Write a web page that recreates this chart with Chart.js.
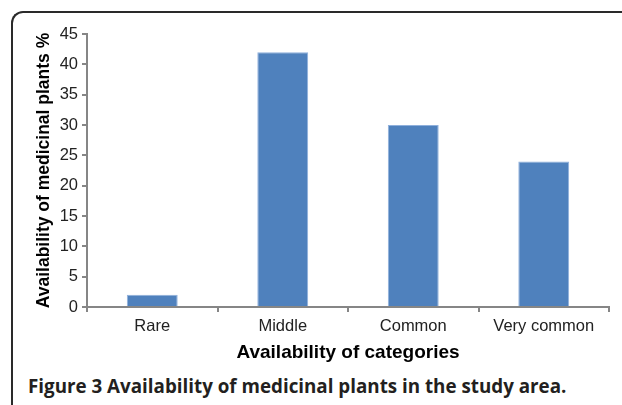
<!DOCTYPE html>
<html>
<head>
<meta charset="utf-8">
<script src="https://cdn.jsdelivr.net/npm/chart.js@4"></script>
<style>
  html, body { margin: 0; padding: 0; background: #fff; overflow: hidden; }
  #wrap { position: relative; width: 622px; height: 405px; }
  #frame {
    position: absolute; left: 11px; top: 11px; width: 640px; height: 420px;
    border-top: 2px solid #2a2a2a; border-left: 2px solid #2a2a2a;
    border-top-left-radius: 12px; box-sizing: border-box;
  }
  #chart { position: absolute; left: 0; top: 0; }
  #caption {
    position: absolute; left: 28px; top: 373px;
    font-family: "Open Sans", sans-serif; font-weight: 700; font-size: 18.8px;
    color: #231f20; white-space: nowrap;
  }
</style>
</head>
<body>
<div id="wrap">
  <div id="frame"></div>
  <canvas id="chart" width="622" height="370"></canvas>
  <div id="caption">Figure 3 Availability of medicinal plants in the study area.</div>
</div>
<script>
const categories = ["Rare", "Middle", "Common", "Very common"];
const availability = [2, 42, 30, 24];
const yTicks = [0, 5, 10, 15, 20, 25, 30, 35, 40, 45];

const axisGray = "#868686";
const textColor = "#222";

const ctx = document.getElementById("chart").getContext("2d");

const chart = new Chart(ctx, {
    type: "bar",
    data: {
        labels: categories,
        datasets: [
            {
                label: "Availability",
                data: availability,
                backgroundColor: "#4F81BD",
                borderColor: "#8fb0dc",
                borderWidth: 1,
                barPercentage: 0.39,
                categoryPercentage: 1,
            },
        ],
    },
    options: {
        responsive: false,
        animation: false,
        layout: { padding: { left: 0, right: 13, top: 34, bottom: 0 } },
        plugins: {
            legend: { display: false },
            tooltip: { enabled: false },
        },
        scales: {
            x: {
                offset: true,
                grid: {
                    offset: true,
                    drawOnChartArea: false,
                    drawTicks: true,
                    tickLength: 5,
                    color: axisGray,
                    lineWidth: 2,
                },
                border: { color: axisGray, width: 2 },
                ticks: {
                    color: textColor,
                    font: { family: "Liberation Sans, Arial", size: 16.5 },
                    padding: 5,
                },
                title: {
                    display: true,
                    text: "Availability of categories",
                    color: "#000",
                    font: { family: "Liberation Sans, Arial", size: 19, weight: "bold" },
                    padding: { top: 0, bottom: 6 },
                },
                afterFit(scale) {
                    scale.height = 63;
                },
            },
            y: {
                min: 0,
                max: 45,
                afterBuildTicks(scale) {
                    scale.ticks = yTicks.map((v) => ({ value: v }));
                },
                grid: {
                    drawOnChartArea: false,
                    drawTicks: true,
                    tickLength: 5,
                    color: axisGray,
                    lineWidth: 2,
                },
                border: { color: axisGray, width: 2 },
                ticks: {
                    color: textColor,
                    font: { family: "Liberation Sans, Arial", size: 16.5 },
                    padding: 4,
                },
                title: {
                    display: true,
                    text: "Availability of medicinal plants %",
                    color: "#000",
                    font: { family: "Liberation Sans, Arial", size: 17.5, weight: "bold" },
                    padding: { top: 34, bottom: 0 },
                },
                afterFit(scale) {
                    scale.width = 87;
                },
            },
        },
    },
});
</script>
</body>
</html>
